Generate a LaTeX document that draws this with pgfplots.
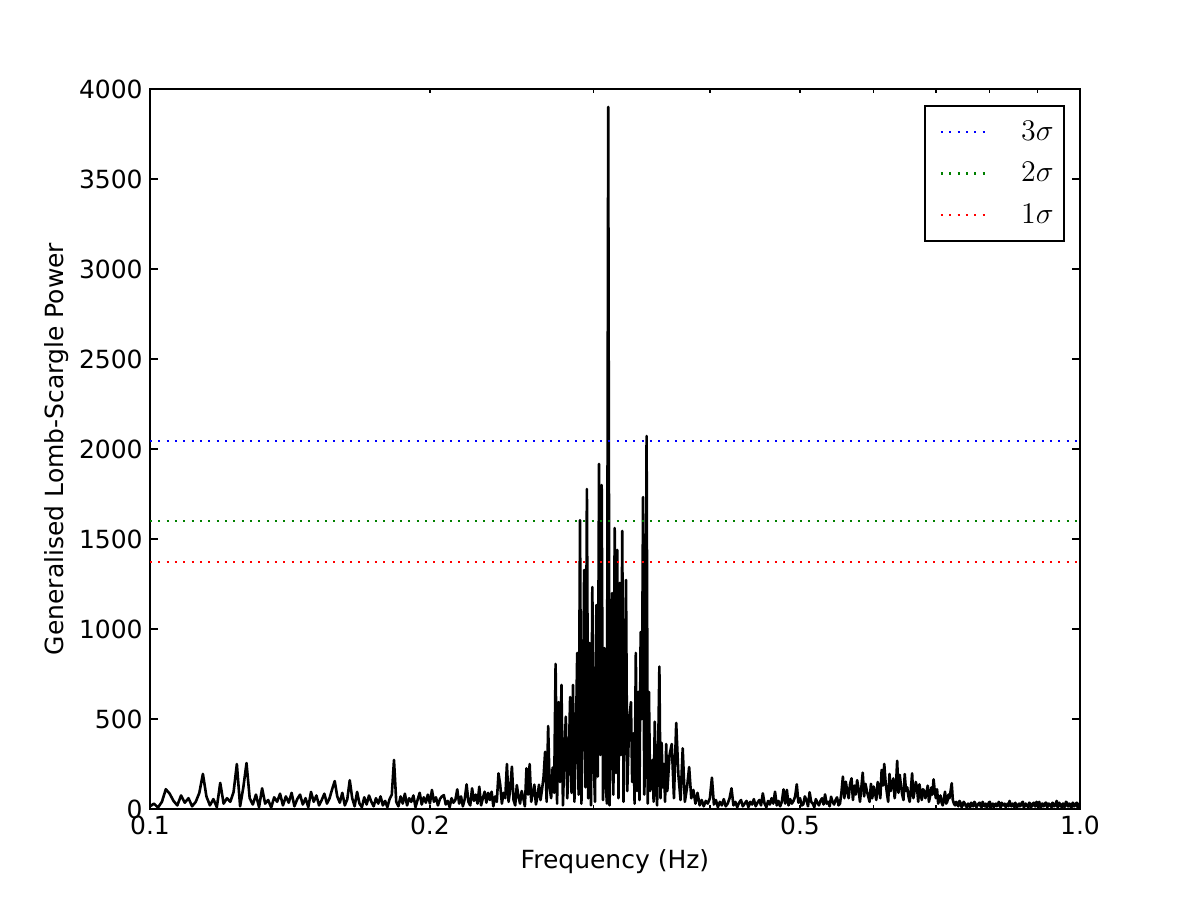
\documentclass[border=0pt]{standalone}
\usepackage{fontspec}
\setmainfont{DejaVu Sans}
\usepackage{pgfplots}
\pgfplotsset{compat=1.18}
\definecolor{mplgreen}{rgb}{0,0.5,0}
\begin{document}
\begin{tikzpicture}
\begin{axis}[
  scale only axis, width=446.4pt, height=345.6pt,
  xmode=log, xmin=0.1, xmax=1, ymin=0, ymax=4000,
  xtick={0.1,1}, xticklabels={0.1,1.0},
  extra x ticks={0.2,0.5}, extra x tick labels={0.2,0.5},
  extra x tick style={major tick length=2pt},
  minor xtick={0.3,0.4,0.6,0.7,0.8,0.9},
  ytick={0,500,1000,1500,2000,2500,3000,3500,4000},
  minor y tick num=0,
  major tick length=4pt, minor tick length=2pt,
  tick align=inside, tick pos=both,
  axis line style={line width=1pt},
  every tick/.style={black, line width=0.6pt},
  scaled y ticks=false,
  /pgf/number format/1000 sep={},
  /pgf/number format/assume math mode=true,
  tick label style={font=\fontsize{12}{14}\selectfont},
  label style={font=\fontsize{12}{14}\selectfont},
  xlabel={Frequency (Hz)},
  ylabel={Generalised Lomb-Scargle Power},
  ylabel shift=-2pt,
  legend style={at={(1,1)}, anchor=north east, xshift=-7.2pt, yshift=-7.7pt,
    draw=black, line width=1pt, font=\fontsize{15}{18}\selectfont,
    inner xsep=3pt, inner ysep=5pt, row sep=5.2pt, cells={anchor=west}},
  legend image code/.code={\draw[#1] (0pt,0pt) -- (21pt,0pt); \path (-4pt,0pt) (36pt,0pt);},
]
\addplot[black, line width=1.25pt, line join=round, forget plot] coordinates {
(0.100,15)(0.101,30)(0.102,8)(0.103,40)(0.104,110)(0.105,85)(0.106,45)(0.107,20)(0.108,75)(0.109,35)
(0.110,60)(0.111,15)(0.112,40)(0.113,90)(0.114,195)(0.115,70)(0.116,20)(0.117,55)(0.118,10)(0.119,145)
(0.120,30)(0.121,60)(0.122,40)(0.123,95)(0.124,250)(0.125,15)(0.126,120)(0.127,255)(0.128,60)(0.129,25)
(0.130,80)(0.131,10)(0.132,115)(0.133,30)(0.134,50)(0.135,8)(0.136,65)(0.137,40)(0.138,85)(0.139,20)
(0.140,70)(0.141,35)(0.142,90)(0.143,15)(0.144,55)(0.145,80)(0.146,25)(0.147,60)(0.148,10)(0.149,95)
(0.150,40)(0.151,75)(0.152,20)(0.153,50)(0.154,85)(0.155,30)(0.156,60)(0.157,110)(0.158,155)(0.159,70)
(0.160,35)(0.161,90)(0.162,20)(0.163,55)(0.164,160)(0.165,60)(0.166,15)(0.167,95)(0.168,30)(0.169,10)
(0.170,65)(0.171,25)(0.172,75)(0.173,40)(0.174,15)(0.175,60)(0.176,30)(0.177,70)(0.178,20)(0.179,45)
(0.180,10)(0.181,55)(0.182,80)(0.183,272)(0.184,40)(0.185,15)(0.186,70)(0.187,30)(0.188,85)(0.189,20)
(0.190,60)(0.191,40)(0.192,75)(0.193,10)(0.194,50)(0.195,90)(0.196,25)(0.197,65)(0.198,35)(0.199,80)
(0.200,30)(0.201,106)(0.202,40)(0.203,65)(0.204,20)(0.205,55)(0.206,70)(0.207,77)(0.208,25)(0.209,45)
(0.210,10)(0.211,60)(0.212,35)(0.213,50)(0.214,109)(0.215,30)(0.216,70)(0.217,15)(0.218,55)(0.219,137)
(0.220,40)(0.221,20)(0.222,115)(0.223,45)(0.224,80)(0.225,30)(0.226,124)(0.227,20)(0.228,60)(0.229,96)
(0.230,35)(0.231,90)(0.232,50)(0.233,96)(0.234,15)(0.235,70)(0.236,40)(0.237,198)(0.238,135)(0.239,30)
(0.240,90)(0.241,60)(0.242,250)(0.243,40)(0.244,110)(0.245,235)(0.246,50)(0.247,20)(0.248,133)(0.249,70)
(0.250,30)(0.251,100)(0.252,60)(0.253,15)(0.254,226)(0.255,80)(0.256,250)(0.257,40)(0.258,90)(0.259,135)
(0.260,25)(0.261,70)(0.262,135)(0.263,50)(0.264,110)(0.265,180)(0.266,318)(0.267,40)(0.268,461)(0.269,120)
(0.270,60)(0.271,230)(0.272,90)(0.273,806)(0.274,30)(0.275,594)(0.276,150)(0.277,689)(0.278,20)(0.279,300)
(0.280,513)(0.281,60)(0.282,250)(0.283,622)(0.284,90)(0.285,689)(0.286,40)(0.287,350)(0.288,867)(0.289,80)
(0.290,1605)(0.291,30)(0.292,450)(0.293,1328)(0.294,120)(0.295,1778)(0.296,60)(0.297,922)(0.298,20)(0.299,1233)
(0.300,250)(0.301,40)(0.302,1133)(0.303,180)(0.304,1917)(0.305,300)(0.306,1800)(0.307,50)(0.308,894)(0.309,150)
(0.310,30)(0.311,3900)(0.312,20)(0.313,400)(0.314,1200)(0.315,80)(0.316,1561)(0.317,200)(0.318,1439)(0.319,60)
(0.320,1256)(0.321,300)(0.322,1545)(0.323,40)(0.324,700)(0.325,1272)(0.326,100)(0.327,350)(0.328,522)(0.329,594)
(0.330,150)(0.331,420)(0.332,30)(0.333,867)(0.334,100)(0.335,650)(0.336,50)(0.337,983)(0.338,500)(0.339,1733)
(0.340,80)(0.341,300)(0.342,2072)(0.343,30)(0.344,650)(0.345,100)(0.346,180)(0.347,272)(0.348,40)(0.349,485)
(0.350,150)(0.351,20)(0.352,350)(0.353,791)(0.354,60)(0.355,367)(0.356,120)(0.357,250)(0.358,40)(0.359,361)
(0.360,100)(0.362,300)(0.364,361)(0.366,60)(0.368,478)(0.370,189)(0.372,50)(0.374,337)(0.376,40)(0.378,120)
(0.380,233)(0.382,60)(0.384,106)(0.386,30)(0.388,90)(0.390,20)(0.392,50)(0.394,15)(0.396,45)(0.398,30)
(0.400,60)(0.402,174)(0.404,25)(0.406,50)(0.408,10)(0.410,40)(0.412,20)(0.414,55)(0.416,15)(0.418,30)
(0.420,60)(0.422,115)(0.424,20)(0.426,40)(0.428,10)(0.430,35)(0.432,50)(0.434,15)(0.436,30)(0.438,45)
(0.440,10)(0.442,40)(0.444,25)(0.446,55)(0.448,15)(0.450,35)(0.452,50)(0.454,20)(0.456,87)(0.458,30)
(0.460,10)(0.462,45)(0.464,25)(0.466,60)(0.468,30)(0.470,96)(0.472,20)(0.474,45)(0.476,15)(0.478,40)
(0.480,109)(0.482,30)(0.484,106)(0.486,20)(0.488,55)(0.490,30)(0.492,45)(0.494,70)(0.496,137)(0.498,35)
(0.500,60)(0.502,20)(0.504,25)(0.506,70)(0.508,50)(0.510,15)(0.512,93)(0.514,40)(0.516,30)(0.518,10)
(0.520,55)(0.522,35)(0.524,20)(0.526,45)(0.528,60)(0.530,25)(0.532,81)(0.534,30)(0.536,40)(0.538,15)
(0.540,68)(0.542,40)(0.544,25)(0.546,50)(0.548,65)(0.550,20)(0.552,30)(0.554,90)(0.556,180)(0.558,60)
(0.560,152)(0.562,100)(0.564,60)(0.566,140)(0.568,170)(0.570,50)(0.572,130)(0.574,80)(0.576,160)(0.578,110)
(0.580,40)(0.582,120)(0.584,202)(0.586,70)(0.588,140)(0.590,100)(0.592,70)(0.594,40)(0.596,140)(0.598,60)
(0.600,125)(0.602,90)(0.604,50)(0.606,150)(0.608,115)(0.610,60)(0.612,217)(0.614,130)(0.616,250)(0.618,150)
(0.620,90)(0.622,40)(0.624,195)(0.626,100)(0.628,135)(0.630,170)(0.632,60)(0.634,120)(0.636,268)(0.638,90)
(0.640,190)(0.642,130)(0.644,80)(0.646,50)(0.648,194)(0.650,100)(0.652,120)(0.654,70)(0.656,40)(0.658,110)
(0.660,198)(0.662,60)(0.664,100)(0.666,150)(0.668,120)(0.670,40)(0.672,137)(0.674,90)(0.676,50)(0.678,110)
(0.680,100)(0.682,60)(0.684,90)(0.686,130)(0.688,40)(0.690,70)(0.692,120)(0.694,80)(0.696,165)(0.698,100)
(0.700,60)(0.702,110)(0.704,30)(0.706,50)(0.708,75)(0.710,35)(0.712,20)(0.714,60)(0.716,96)(0.718,30)
(0.720,40)(0.722,80)(0.724,60)(0.726,100)(0.728,143)(0.730,50)(0.732,30)(0.734,20)(0.736,40)(0.738,25)
(0.740,15)(0.742,45)(0.744,35)(0.746,10)(0.748,20)(0.750,40)(0.752,30)(0.754,15)(0.756,10)(0.758,30)
(0.760,25)(0.762,10)(0.764,35)(0.766,20)(0.768,15)(0.770,40)(0.772,30)(0.774,10)(0.776,20)(0.778,30)
(0.780,35)(0.782,15)(0.784,10)(0.786,40)(0.788,25)(0.790,15)(0.792,30)(0.794,10)(0.796,15)(0.798,35)
(0.800,40)(0.802,10)(0.804,20)(0.806,30)(0.808,10)(0.810,25)(0.812,30)(0.814,15)(0.816,25)(0.818,40)
(0.820,15)(0.822,10)(0.824,35)(0.826,20)(0.828,20)(0.830,30)(0.832,10)(0.834,20)(0.836,30)(0.838,15)
(0.840,45)(0.842,20)(0.844,15)(0.846,30)(0.848,25)(0.850,10)(0.852,35)(0.854,20)(0.856,10)(0.858,25)
(0.860,30)(0.862,15)(0.864,20)(0.866,35)(0.868,40)(0.870,10)(0.872,15)(0.874,30)(0.876,25)(0.878,15)
(0.880,10)(0.882,35)(0.884,30)(0.886,10)(0.888,20)(0.890,30)(0.892,35)(0.894,15)(0.896,15)(0.898,40)
(0.900,25)(0.902,10)(0.904,40)(0.906,20)(0.908,10)(0.910,30)(0.912,30)(0.914,15)(0.916,20)(0.918,35)
(0.920,35)(0.922,10)(0.924,15)(0.926,30)(0.928,25)(0.930,20)(0.932,10)(0.934,35)(0.936,30)(0.938,15)
(0.940,20)(0.942,30)(0.944,45)(0.946,10)(0.948,15)(0.950,35)(0.952,25)(0.954,15)(0.956,10)(0.958,30)
(0.960,30)(0.962,10)(0.964,20)(0.966,40)(0.968,35)(0.970,15)(0.972,15)(0.974,30)(0.976,25)(0.978,10)
(0.980,10)(0.982,35)(0.984,30)(0.986,15)(0.988,20)(0.990,30)(0.992,35)(0.994,10)(0.996,15)(0.998,30)
(1.000,20)
};
\addplot[blue, line width=1pt, dash pattern=on 1pt off 3pt] coordinates {(0.1,2046) (1,2046)};
\addlegendentry{\(3\sigma\)}
\addplot[mplgreen, line width=1pt, dash pattern=on 1pt off 3pt] coordinates {(0.1,1602) (1,1602)};
\addlegendentry{\(2\sigma\)}
\addplot[red, line width=1pt, dash pattern=on 1pt off 3pt] coordinates {(0.1,1370) (1,1370)};
\addlegendentry{\(1\sigma\)}
\coordinate (bl) at (rel axis cs:0,0);
\coordinate (tr) at (rel axis cs:1,1);
\end{axis}
\pgfresetboundingbox
\path ([xshift=-72pt,yshift=-43.68pt]bl) rectangle ([xshift=57.6pt,yshift=42.72pt]tr);
\end{tikzpicture}
\end{document}
